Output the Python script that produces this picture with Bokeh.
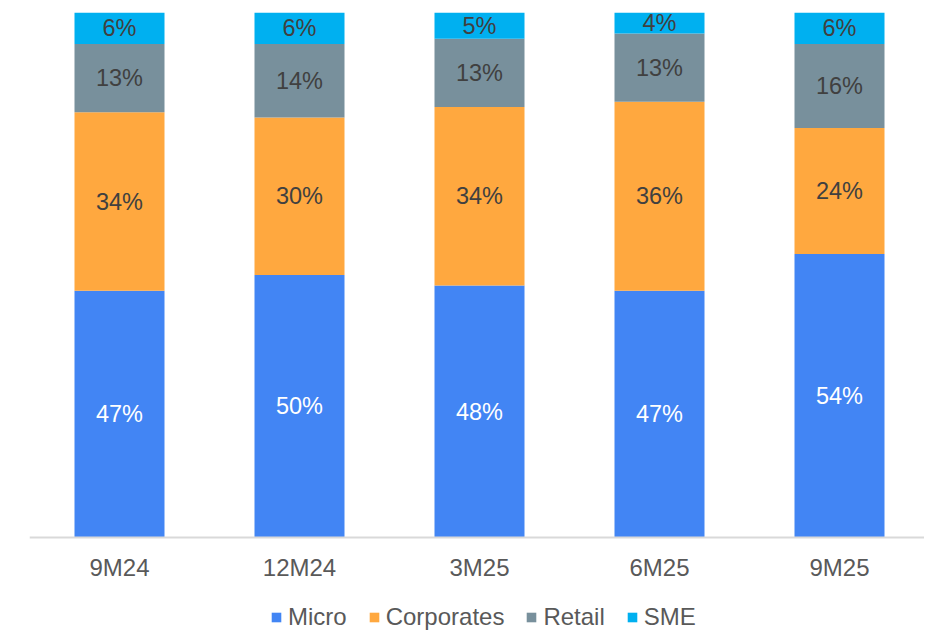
import numpy as np
from bokeh.plotting import figure
from bokeh.models import ColumnDataSource, Range1d, FixedTicker, Legend, LegendItem, LinearAxis
from bokeh.core.properties import value
from bokeh.embed import file_html
from bokeh.resources import INLINE

categories = ["9M24", "12M24", "3M25", "6M25", "9M25"]
micro = [47, 50, 48, 47, 54]
corporates = [34, 30, 34, 36, 24]
retail = [13, 14, 13, 13, 16]
sme = [6, 6, 5, 4, 6]

series_names = ["Micro", "Corporates", "Retail", "SME"]
colors = ["#4285F4", "#FFA83F", "#78909C", "#00B0F0"]
label_colors = ["#FFFFFF", "#404040", "#404040", "#404040"]

FONT = "Liberation Sans"
x = np.arange(len(categories))
data = dict(x=x, Micro=micro, Corporates=corporates, Retail=retail, SME=sme)
src = ColumnDataSource(data)

FW = 895
FH = 621
PX_PER_UNIT = 5.25
p = figure(frame_width=FW, frame_height=FH, output_backend="svg", toolbar_location=None,
           x_range=Range1d(-0.5, -0.5 + FW / 180),
           y_range=Range1d(100 - FH / PX_PER_UNIT, 100),
           x_axis_location=None, y_axis_location=None)
p.min_border_left = 29
p.min_border_right = 0
p.min_border_top = 12
p.min_border_bottom = 0
p.outline_line_color = None
p.xgrid.visible = False
p.ygrid.visible = False

renderers = p.vbar_stack(series_names, x="x", width=0.5, color=colors, source=src,
                         line_color=None)

# segment labels
vals = [micro, corporates, retail, sme]
bottom = np.zeros(len(categories))
for name, v, lc in zip(series_names, vals, label_colors):
    v = np.array(v, dtype=float)
    mid = bottom + v / 2
    bottom = bottom + v
    lsrc = ColumnDataSource(dict(x=x, y=mid, t=[f"{int(a)}%" for a in v]))
    p.text(x="x", y="y", text="t", source=lsrc, text_align="center",
           text_baseline="middle", text_color=lc, text_font=value(FONT),
           text_font_size="23.5px")

ax = LinearAxis(fixed_location=0)
ax.ticker = FixedTicker(ticks=list(x))
ax.major_label_overrides = {int(i): c for i, c in zip(x, categories)}
ax.major_tick_line_color = None
ax.minor_tick_line_color = None
ax.axis_line_color = "#D9D9D9"
ax.axis_line_width = 2
ax.major_label_text_font = FONT
ax.major_label_text_font_size = "24px"
ax.major_label_text_color = "#595959"
ax.major_label_standoff = 10
p.add_layout(ax, "below")

legend = Legend(items=[LegendItem(label=n, renderers=[r]) for n, r in zip(series_names, renderers)],
                orientation="horizontal", location=(241, 2))
legend.label_text_font = FONT
legend.label_text_font_size = "24px"
legend.label_text_color = "#595959"
legend.glyph_width = 12
legend.glyph_height = 12
legend.label_standoff = 6
legend.spacing = 21
legend.padding = 0
legend.margin = 0
legend.border_line_color = None
legend.background_fill_alpha = 0
p.add_layout(legend, "center")

open("out.html", "w").write(file_html(p, INLINE))
